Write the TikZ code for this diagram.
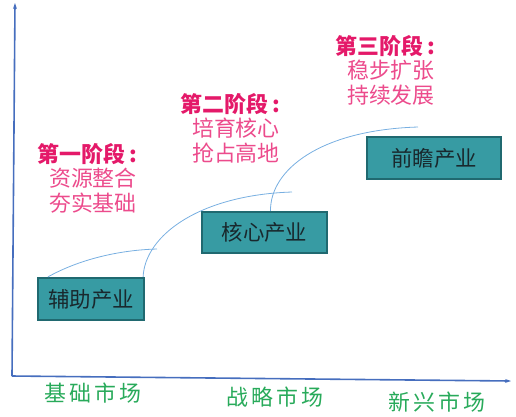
\documentclass[tikz,border=0pt]{standalone}
\usepackage{fontspec}
\setmainfont{Noto Sans CJK SC}
\newfontfamily\widecjk{Noto Sans CJK SC}[LetterSpace=14]
\usepackage{xcolor}
\usepackage{tikz}
\usetikzlibrary{arrows.meta, calc}
\definecolor{AxBlue}{RGB}{70,110,190}
\definecolor{CurveBlue}{RGB}{120,175,225}
\definecolor{BoxTeal}{RGB}{55,155,163}
\definecolor{BoxEdge}{RGB}{32,105,112}
\definecolor{BoxText}{RGB}{25,40,45}
\definecolor{StagePink}{RGB}{228,25,105}
\definecolor{NotePink}{RGB}{236,75,140}
\definecolor{MktGreen}{RGB}{40,170,90}

\begin{document}
\begin{tikzpicture}[x=1bp, y=-1bp,
          ind/.style={rectangle, fill=BoxTeal, draw=BoxEdge, line width=2.2bp,
                      inner sep=0pt, text=BoxText,
                      font=\fontsize{21.5}{24}\selectfont},
          stage/.style={align=right, inner sep=0pt, text=NotePink,
                        font=\fontsize{22}{24.5}\selectfont},
          mkt/.style={inner sep=0pt, text=MktGreen,
                      font=\widecjk\fontsize{22}{24}\selectfont},
          axis/.style={-{Stealth[length=6bp, width=4bp]}, draw=AxBlue, line width=1.6bp},
          growline/.style={draw=CurveBlue, line width=0.8bp}
        ]
        \useasboundingbox (0,0) rectangle (516,416);

        % axes
        \coordinate (o)  at (12,376);
        \coordinate (ytop) at (15,3);
        \coordinate (xend) at (511,381);
        \draw[axis] (o) -- (ytop);
        \draw[axis] (o) -- (xend);

        % industries
        \node[ind, minimum width=106bp, minimum height=42bp] (fuzhu)  at (91,299)    {辅助产业};
        \node[ind, minimum width=125bp, minimum height=41bp] (hexin)  at (264.5,232.5) {核心产业};
        \node[ind, minimum width=134bp, minimum height=42bp] (qianzh) at (434,158)   {前瞻产业};

        % stages
        \node[stage, anchor=east] (st1) at (137,178)
              {\textcolor{StagePink}{\bfseries 第一阶段\,:}\\资源整合\\夯实基础};
        \node[stage, anchor=east] (st2) at (280,128)
              {\textcolor{StagePink}{\bfseries 第二阶段\,:}\\培育核心\\抢占高地};
        \node[stage, anchor=east] (st3) at (435,70)
              {\textcolor{StagePink}{\bfseries 第三阶段\,:}\\稳步扩张\\持续发展};

        % markets
        \node[mkt] (m1) at (93,393)  {基础市场};
        \node[mkt] (m2) at (275,397) {战略市场};
        \node[mkt] (m3) at (437,402) {新兴市场};

        % growth curves
        \coordinate (g1) at (157,249);
        \coordinate (g2) at (292,192);
        \coordinate (g3) at (418,127);
        \draw[growline] ([xshift=11bp]fuzhu.north west) .. controls (80,259) and (120,250) .. (g1);
        \draw[growline] ([xshift=-2bp]fuzhu.north east) .. controls (145,235) and (200,195) .. (g2);
        \draw[growline] ([xshift=6bp]hexin.north) .. controls (270,170) and (320,130) .. (g3);
      \end{tikzpicture}
\end{document}
